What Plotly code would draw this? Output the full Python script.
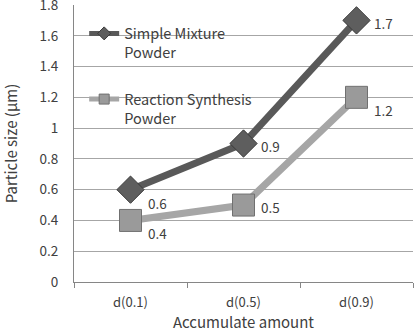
import plotly.graph_objects as go

categories = ["d(0.1)", "d(0.5)", "d(0.9)"]
simple_mixture = [0.6, 0.9, 1.7]
reaction_synthesis = [0.4, 0.5, 1.2]
series_names = ["Simple Mixture<br>Powder", "Reaction Synthesis<br>Powder"]
y_ticks = [0, 0.2, 0.4, 0.6, 0.8, 1.0, 1.2, 1.4, 1.6, 1.8]

FONT = "Noto Sans CJK KR, Noto Sans, sans-serif"
TXT = "#404040"
C1_LINE, C1_MARK, C1_EDGE = "#595959", "#5e5e5e", "#3a3a3a"
C2_LINE, C2_MARK, C2_EDGE = "#a6a6a6", "#9a9a9a", "#707070"

fig = go.Figure()
fig.add_trace(go.Scatter(
    x=categories, y=simple_mixture, name=series_names[0],
    mode="lines+markers", showlegend=False,
    line=dict(color=C1_LINE, width=7),
    marker=dict(symbol="diamond", size=21, color=C1_MARK,
                line=dict(color=C1_EDGE, width=1)),
))
fig.add_trace(go.Scatter(
    x=categories, y=reaction_synthesis, name=series_names[1],
    mode="lines+markers", showlegend=False,
    line=dict(color=C2_LINE, width=7),
    marker=dict(symbol="square", size=22, color=C2_MARK,
                line=dict(color=C2_EDGE, width=1)),
))
# legend entries (legend-sized symbols, same series styling)
fig.add_trace(go.Scatter(
    x=[None], y=[None], name=series_names[0], legendgroup="g0",
    mode="lines+markers",
    line=dict(color=C1_LINE, width=5),
    marker=dict(symbol="diamond", size=10, color=C1_MARK,
                line=dict(color=C1_EDGE, width=1)),
))
fig.add_trace(go.Scatter(
    x=[None], y=[None], name=series_names[1], legendgroup="g1",
    mode="lines+markers",
    line=dict(color=C2_LINE, width=5),
    marker=dict(symbol="square", size=10, color=C2_MARK,
                line=dict(color=C2_EDGE, width=1)),
))

# data labels (vertical offsets in px)
label_dy_s1 = [-13, -2, -3]
label_dy_s2 = [-13, -2, -13]
for vals, dys in ((simple_mixture, label_dy_s1), (reaction_synthesis, label_dy_s2)):
    for c, v, dy in zip(categories, vals, dys):
        fig.add_annotation(x=c, y=v, text=f"{v:g}", showarrow=False,
                           xanchor="left", yanchor="middle", xshift=15, yshift=dy,
                           font=dict(family=FONT, size=13.5, color=TXT))

fig.update_layout(
    width=414, height=332,
    margin=dict(l=74, r=1, t=5, b=50),
    paper_bgcolor="white", plot_bgcolor="white",
    font=dict(family=FONT, size=13, color=TXT),
    showlegend=True,
    legend=dict(x=0.03, y=0.955, xanchor="left", yanchor="top",
                bgcolor="rgba(0,0,0,0)", valign="top",
                tracegroupgap=25, itemwidth=30,
                font=dict(family=FONT, size=14.5, color=TXT)),
    xaxis=dict(
        type="category", range=[-0.5, 2.5], automargin=False,
        showline=True, linecolor="#868686", linewidth=1,
        ticks="outside", tickson="boundaries", ticklen=5, tickcolor="#868686",
        ticklabelstandoff=8,
        showgrid=False, zeroline=False,
        tickfont=dict(family=FONT, size=13, color=TXT),
        title=dict(text="Accumulate amount", standoff=6,
                   font=dict(family=FONT, size=15, color=TXT)),
    ),
    yaxis=dict(
        range=[0, 1.8], tickvals=y_ticks, automargin=False,
        showline=True, linecolor="#868686", linewidth=1,
        showgrid=True, gridcolor="#a6a6a6", gridwidth=1,
        zeroline=False, ticks="", ticklen=0,
        ticklabelstandoff=12, ticklabeloverflow="allow",
        tickfont=dict(family=FONT, size=13.5, color=TXT),
        title=dict(text="Particle size (μm)", standoff=18,
                   font=dict(family=FONT, size=15, color=TXT)),
    ),
)

fig.write_html("out.html")
